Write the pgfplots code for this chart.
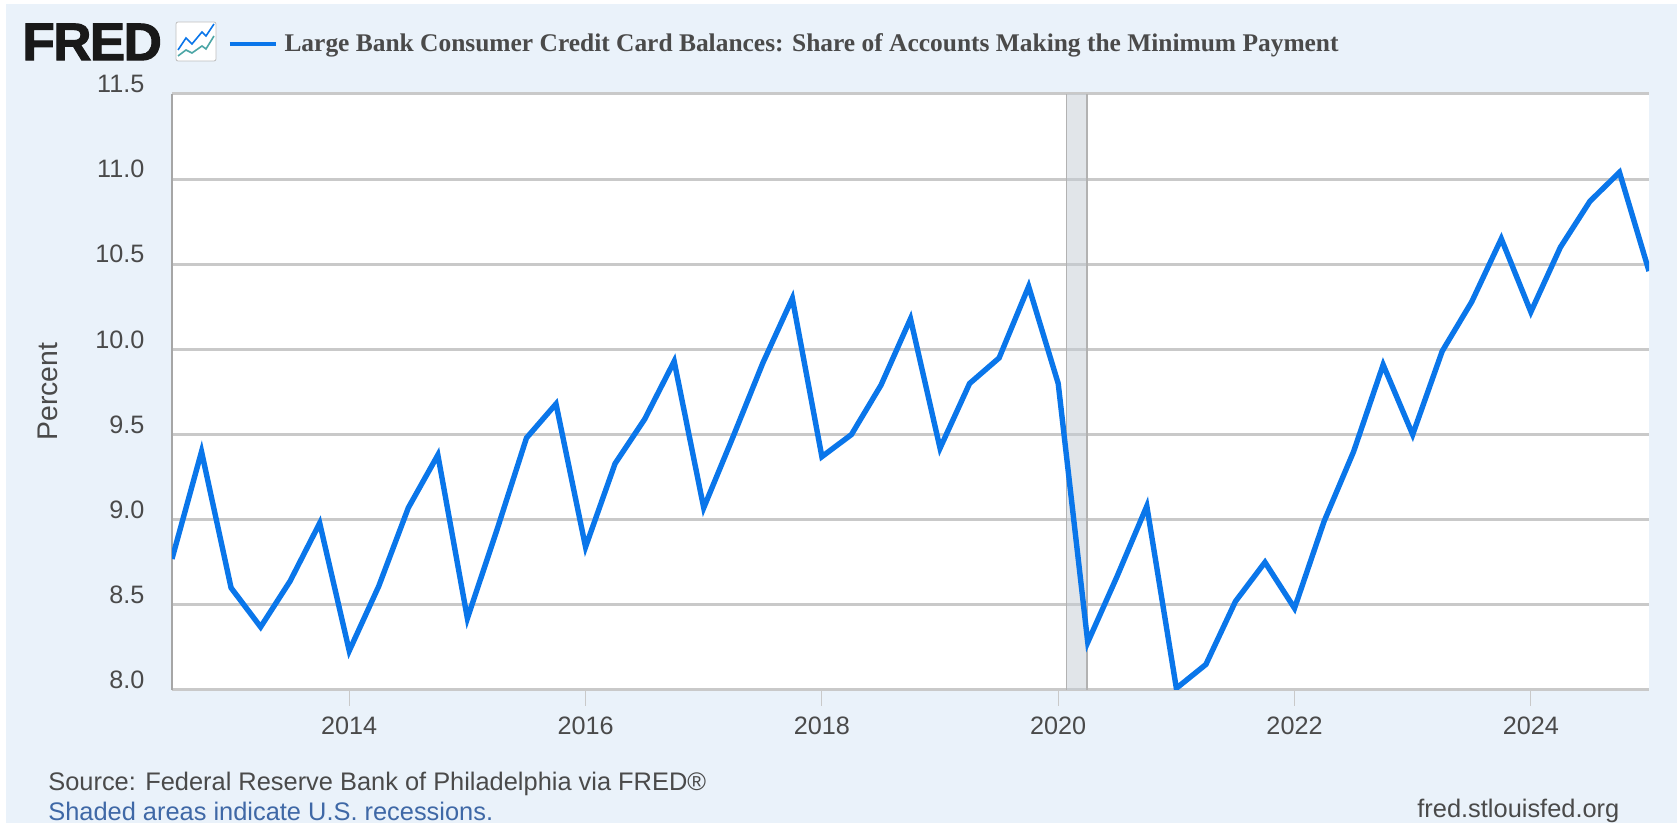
\documentclass[border=0pt]{standalone}
\usepackage{fontspec}
\setmainfont{Liberation Sans}
\newfontfamily\titlefont{Liberation Serif}
\newfontfamily\fredfont[FakeBold=2,LetterSpace=-3]{Liberation Sans}
\usepackage{pgfplots}
\pgfplotsset{compat=1.18}
\definecolor{fredbg}{HTML}{EAF2FA}
\definecolor{fredline}{HTML}{0A76EA}
\definecolor{fredgrid}{HTML}{C9C9C9}
\definecolor{fredtext}{HTML}{4A4A4A}
\definecolor{fredlink}{HTML}{3F68A6}
\definecolor{fredband}{HTML}{C4CCD4}
\begin{document}
\begin{tikzpicture}
\fill[white] (0,0) rectangle (838.5pt,411.5pt);
\useasboundingbox (0,0) rectangle (838.5pt,411.5pt);
% page background and header/footer, coordinates in reference pixels
\begin{scope}[shift={(0,411.5pt)},x=0.5pt,y=-0.5pt]
\fill[fredbg] (6,4) rectangle (1677,823);
\node[anchor=west,inner sep=0pt,text=black!90] at (22,42) {\fontsize{26.5}{26.5}\selectfont\fredfont\bfseries FRED};
\draw[fill=white,draw=black!25,rounded corners=1pt] (176,22) rectangle (216,61);
\draw[fredline,line width=0.8pt] (178,50) -- (186,38) -- (192,44) -- (202,32) -- (206,36) -- (214,24);
\draw[teal!70,line width=0.8pt] (178,56) -- (186,50) -- (192,53) -- (202,46) -- (206,49) -- (214,36);
\node[anchor=west,inner sep=0pt,text=fredtext] at (48,784) {\fontsize{12.7}{12.7}\selectfont Source: Federal Reserve Bank of Philadelphia via FRED®};
\node[anchor=west,inner sep=0pt,text=fredlink] at (48,811) {\fontsize{12.7}{12.7}\selectfont Shaded areas indicate U.S. recessions.};
\node[anchor=west,inner sep=0pt,text=fredtext] at (1417,811) {\fontsize{12.7}{12.7}\selectfont fred.stlouisfed.org};
\end{scope}
\begin{axis}[
    at={(86pt,66.5pt)},
    anchor=south west,
    scale only axis,
    width=738.5pt,
    height=298pt,
    xmin=2012.5, xmax=2025,
    ymin=8, ymax=11.5,
    xtick={2014,2016,2018,2020,2022,2024},
    ytick={8,8.5,9,9.5,10,10.5,11,11.5},
    xticklabel style={/pgf/number format/1000 sep={},text=fredtext,font=\fontsize{12.6}{12.6}\selectfont,yshift=-2pt},
    yticklabel style={/pgf/number format/fixed,/pgf/number format/fixed zerofill,/pgf/number format/precision=1,
        text=fredtext,font=\fontsize{12.6}{12.6}\selectfont,yshift=5pt,xshift=-10.3pt},
    /pgf/number format/assume math mode=true,
    ymajorgrids,
    grid style={fredgrid,line width=1.5pt},
    axis x line*=bottom,
    axis y line*=left,
    x axis line style={fredgrid,line width=1pt,-},
    y axis line style={black!35,line width=0.7pt,-},
    tick style={draw=fredgrid,line width=0.5pt},
    ytick style={draw=none},
    xtick align=outside,
    major tick length=8pt,
    axis background/.style={fill=white},
    ylabel={Percent},
    ylabel style={text=fredtext,font=\fontsize{14.2}{14.2}\selectfont,at={(axis description cs:-0.0838,0.5005)},anchor=center},
    legend style={at={(axis description cs:0.0378,1.0836)},anchor=west,draw=none,fill=none,
        font=\fontsize{12.72}{12.72}\selectfont\titlefont\bfseries,text=fredtext,
        inner sep=0pt,outer sep=0pt,nodes={inner sep=1pt}},
    legend cell align=left,
    legend image code/.code={\draw[#1,line width=2pt] (0,0) -- (23pt,0); \path (25pt,0);},
]
% recession band, translucent so the grid shows through
\addplot[draw=none,fill=fredband,fill opacity=0.5,forget plot]
    coordinates {(2020.07,8) (2020.07,11.5) (2020.245,11.5) (2020.245,8)} -- cycle;
% band edges
\addplot[black!30,line width=0.7pt,forget plot] coordinates {(2020.07,8) (2020.07,11.5)};
\addplot[black!30,line width=0.7pt,forget plot] coordinates {(2020.245,8) (2020.245,11.5)};
\addplot[fredline,line width=2.7pt,line join=miter,miter limit=10] coordinates {
(2012.5,8.77) (2012.75,9.40)
(2013.0,8.60) (2013.25,8.37) (2013.5,8.64) (2013.75,8.98)
(2014.0,8.23) (2014.25,8.61) (2014.5,9.07) (2014.75,9.38)
(2015.0,8.42) (2015.25,8.94) (2015.5,9.48) (2015.75,9.68)
(2016.0,8.84) (2016.25,9.33) (2016.5,9.59) (2016.75,9.93)
(2017.0,9.07) (2017.25,9.49) (2017.5,9.92) (2017.75,10.30)
(2018.0,9.37) (2018.25,9.50) (2018.5,9.79) (2018.75,10.18)
(2019.0,9.42) (2019.25,9.80) (2019.5,9.95) (2019.75,10.37)
(2020.0,9.80) (2020.25,8.28) (2020.5,8.67) (2020.75,9.08)
(2021.0,8.01) (2021.25,8.15) (2021.5,8.52) (2021.75,8.75)
(2022.0,8.48) (2022.25,8.99) (2022.5,9.40) (2022.75,9.91)
(2023.0,9.50) (2023.25,9.99) (2023.5,10.28) (2023.75,10.65)
(2024.0,10.22) (2024.25,10.60) (2024.5,10.87) (2024.75,11.04)
(2025.0,10.46)
};
\addlegendentry{Large Bank Consumer Credit Card Balances: Share of Accounts Making the Minimum Payment}
\end{axis}
\end{tikzpicture}
\end{document}
